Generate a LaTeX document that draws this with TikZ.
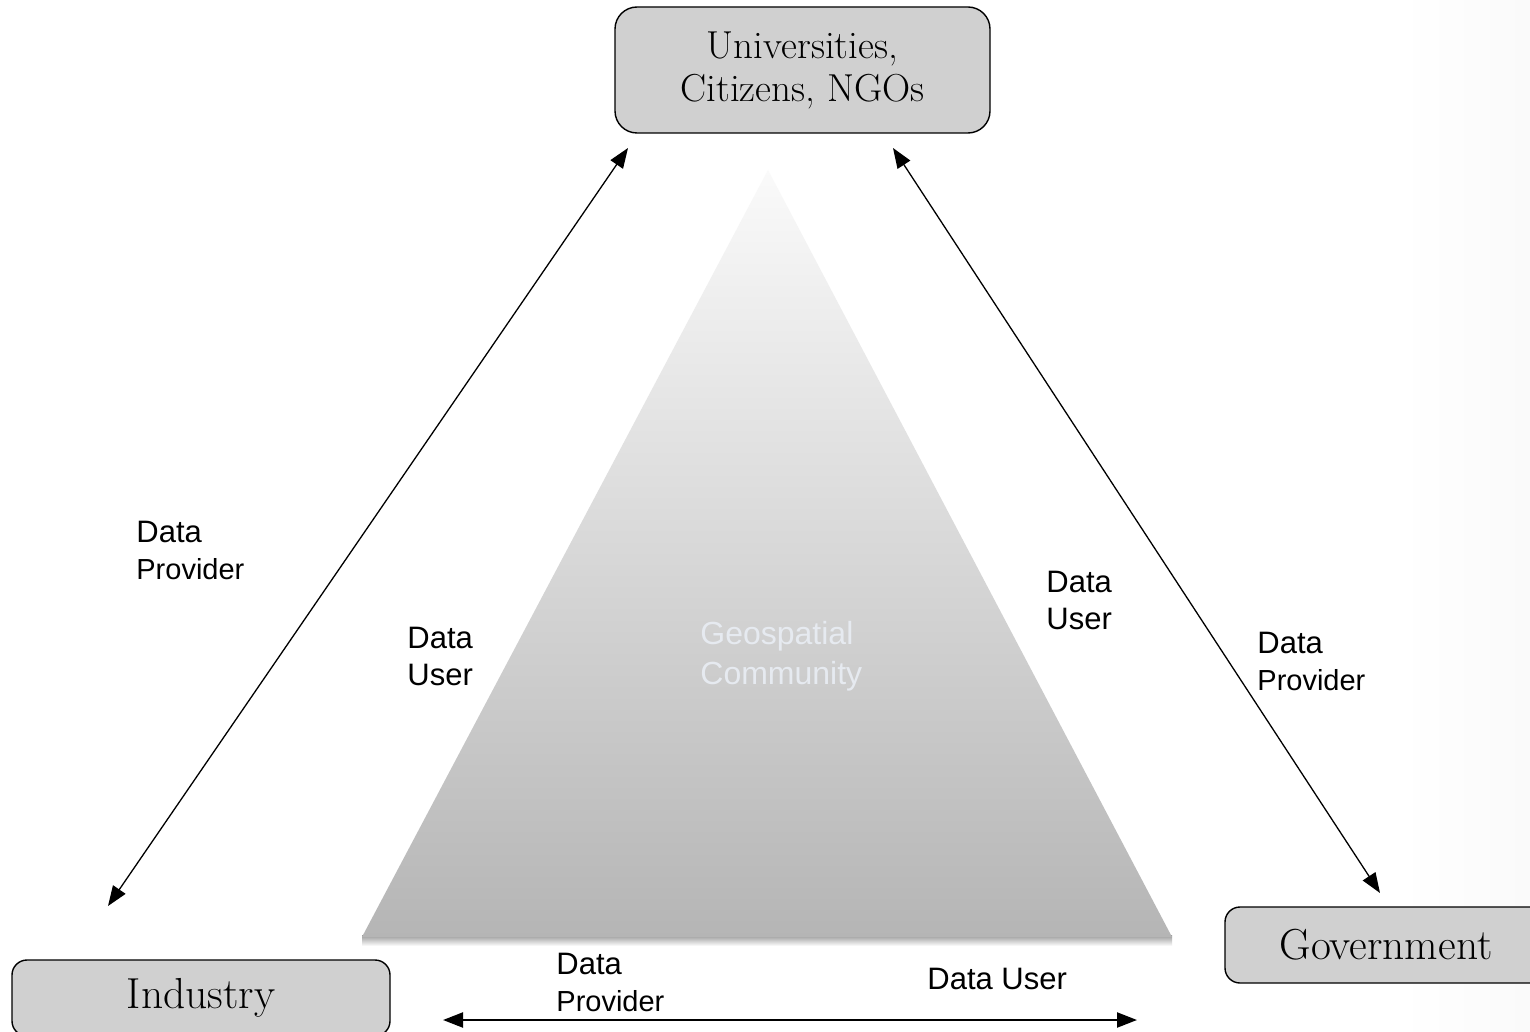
\documentclass[tikz,border=0pt]{standalone}
\usepackage{fontspec}
\newfontfamily\labelfont{Liberation Sans}
\usetikzlibrary{arrows.meta}
\definecolor{boxgray}{HTML}{D0D0D0}
\definecolor{geotext}{HTML}{E6EAF0}
\begin{document}
\begin{tikzpicture}[x=0.5pt,y=-0.5pt,
  rolebox/.style={draw=black,line width=0.7pt,fill=boxgray,inner sep=0pt,align=center},
  lbl/.style={anchor=north west,inner sep=0pt,align=left,font=\labelfont\fontsize{15.5}{18.5}\selectfont},
  link/.style={line width=0.65pt,{Triangle[length=10pt,width=7.5pt]}-{Triangle[length=10pt,width=7.5pt]}}]
\useasboundingbox[fill=white] (0,0) rectangle (1530,1032);
% faint background tint at right
\shade[left color=white,right color=black!2] (1400,0) rectangle (1530,1032);
% triangle shadow
\shade[top color=black!40,bottom color=white] (362,935) rectangle (1172,946);
% triangle
\shade[top color=black!2,bottom color=black!29] (768,170) -- (1172,937) -- (362,937) -- cycle;
\node[anchor=north west,inner sep=0pt,align=left,text=geotext,font=\labelfont\fontsize{16}{20}\selectfont] (geo) at (700,621) {Geospatial\\Community};
% boxes
\node[rolebox,rounded corners=11pt,minimum width=187.5pt,minimum height=63pt,font=\fontsize{19.5}{21.5}\selectfont] (uni) at (802.5,70) {Universities,\\Citizens, NGOs};
\node[rolebox,rounded corners=7.5pt,minimum width=161pt,minimum height=38pt,font=\fontsize{21.7}{24}\selectfont] (gov) at (1386,945) {Government};
\node[rolebox,rounded corners=7.5pt,minimum width=189pt,minimum height=38pt,font=\fontsize{21.7}{24}\selectfont] (ind) at (201,998) {Industry};
% arrow ends
\coordinate (uL) at (628,148);
\coordinate (iE) at (108,906);
\coordinate (uR) at (893,148);
\coordinate (gE) at (1380,893);
\coordinate (bL) at (443,1020);
\coordinate (bR) at (1137,1020);
\draw[link] (uL) -- (iE);
\draw[link] (uR) -- (gE);
\draw[link,line width=1.1pt] (bL) -- (bR);
% labels
\node[lbl] (l1) at (136,521) {Data\\{\fontsize{14.5}{18}\selectfont Provider}};
\node[lbl] (l2) at (407,627) {Data\\User};
\node[lbl] (l3) at (1046,571) {Data\\User};
\node[lbl] (l4) at (1257,632) {Data\\{\fontsize{14.5}{18}\selectfont Provider}};
\node[lbl] (l5) at (556,953) {Data\\{\fontsize{14.5}{18}\selectfont Provider}};
\node[lbl] (l6) at (927,968) {Data User};
\end{tikzpicture}
\end{document}
